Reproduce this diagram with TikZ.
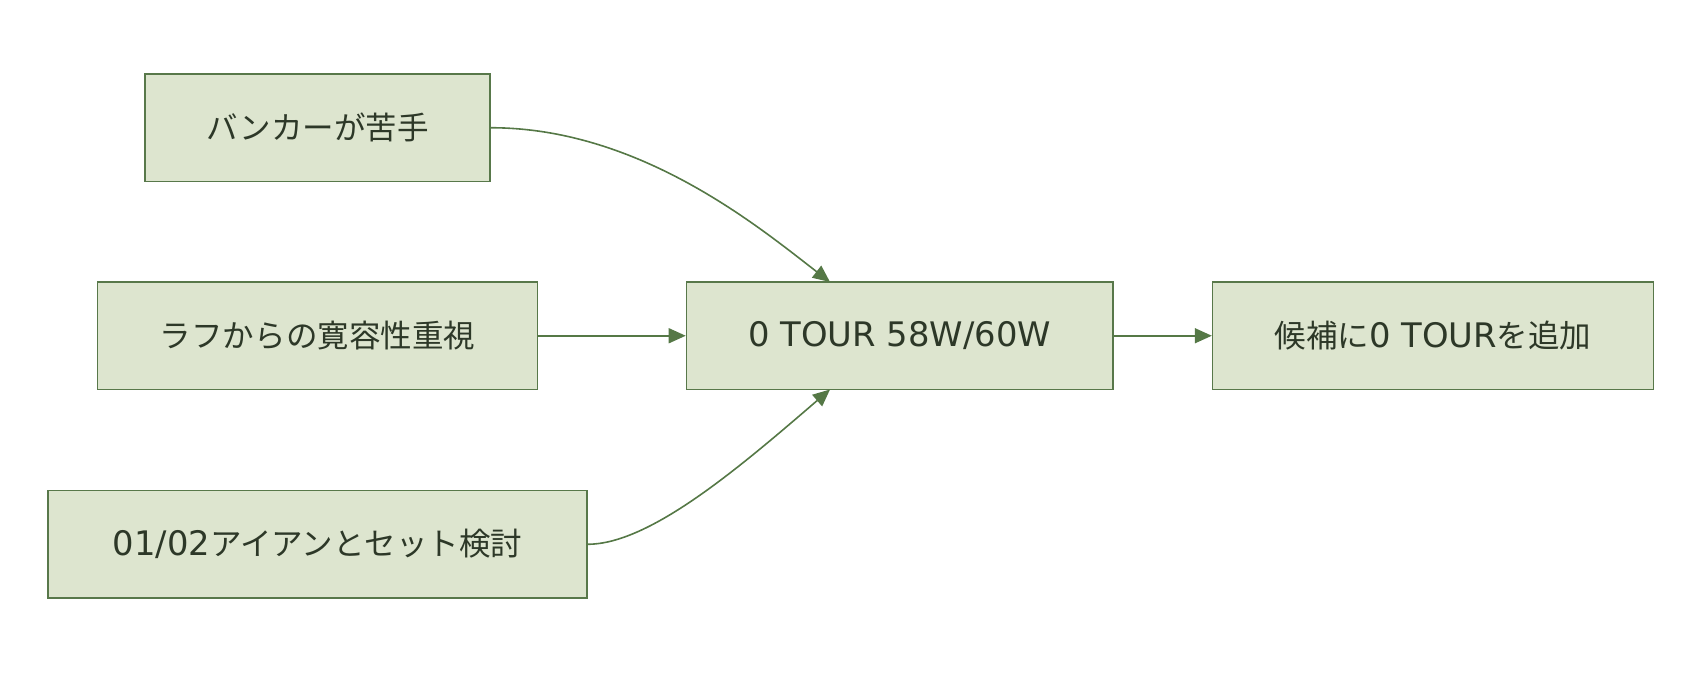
\documentclass[tikz,border=0pt]{standalone}
\usepackage{fontspec}
\setmainfont{DejaVu Sans}
\newfontfamily\cjk{Noto Sans CJK JP}[Scale=0.932]
\usetikzlibrary{arrows.meta}
\definecolor{boxfill}{RGB}{221,229,207}
\definecolor{boxline}{RGB}{88,120,74}
\definecolor{txt}{RGB}{45,56,40}
\definecolor{edge}{RGB}{85,120,70}
\tikzset{
  box/.style={draw=boxline, fill=boxfill, line width=1.6pt, rectangle, inner sep=0pt,
    minimum height=107.5pt, text=txt, font=\fontsize{33.8}{40}\selectfont},
  conn/.style={draw=edge, line width=1.6pt, -{Triangle[length=17pt,width=15pt]}}
}
\begin{document}
\begin{tikzpicture}[x=1pt,y=-1pt]
\useasboundingbox (0,0) rectangle (1702,676);
\node[box, minimum width=345pt] (a) at (317.5,127.75) {\cjk バンカーが苦手};
\node[box, minimum width=440pt] (b) at (317.5,335.75) {\cjk ラフからの寛容性重視};
\node[box, minimum width=539pt] (c) at (317.5,544.25) {01/02{\cjk アイアンとセット検討}};
\node[box, minimum width=426.5pt] (d) at (899.75,335.75) {0 TOUR 58W/60W};
\node[box, minimum width=440.8pt] (e) at (1433,335.75) {{\cjk 候補に}0 TOUR{\cjk を追加}};
\coordinate (dt) at (830,282);
\coordinate (db) at (830,389.5);
\draw[conn] (a.east) .. controls (640,127.75) and (760,228) .. (dt);
\draw[conn] (c.east) .. controls (650,544.25) and (740,467) .. (db);
\draw[conn] (b.east) -- (d.west);
\draw[conn] (d.east) -- (e.west);
\end{tikzpicture}
\end{document}
